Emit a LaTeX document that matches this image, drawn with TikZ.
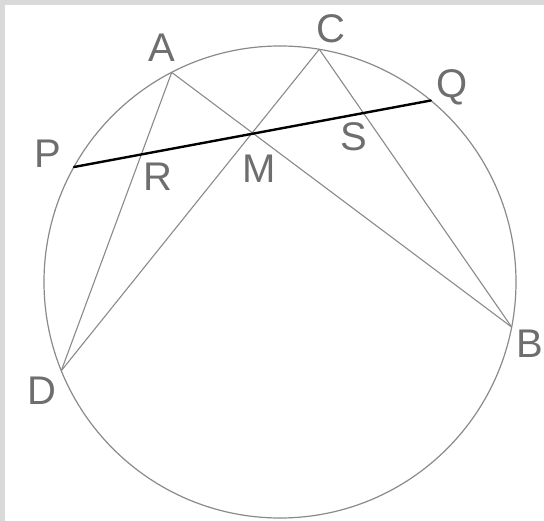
\documentclass[tikz,border=0pt]{standalone}
\usepackage{fontspec}
\setmainfont{Liberation Sans}
\definecolor{framegray}{HTML}{D9D9D9}
\definecolor{linegray}{HTML}{8A8A8A}
\definecolor{labelgray}{HTML}{6E6E6E}
\tikzset{
  chord/.style={draw=linegray, line width=1.1pt},
  lbl/.style={text=labelgray, inner sep=0pt, font=\fontsize{40}{40}\selectfont}
}
\begin{document}
\begin{tikzpicture}[x=1pt, y=-1pt]
    \useasboundingbox (0,0) rectangle (544,521);
    \fill[framegray] (0,0) rectangle (544,5);
    \fill[framegray] (0,0) rectangle (5,521);

    \coordinate (O) at (280,282);
    \coordinate (A) at (171.7,72.4);
    \coordinate (B) at (511.7,327.1);
    \coordinate (C) at (319.3,49.3);
    \coordinate (D) at (61.3,370.7);
    \coordinate (P) at (74,167);
    \coordinate (Q) at (430.8,100.5);

    \draw[draw=linegray, line width=1.2pt] (O) circle [radius=236];

    \draw[chord] (A) -- (B);
    \draw[chord] (A) -- (D);
    \draw[chord] (C) -- (D);
    \draw[chord] (C) -- (B);
    \draw[line width=2.4pt, line cap=round] (P) -- (Q);

    \node[lbl] (lA) at (162,48) {A};
    \node[lbl] (lB) at (530,344) {B};
    \node[lbl] (lC) at (331,29) {C};
    \node[lbl] (lD) at (42,391) {D};
    \node[lbl] (lP) at (48,154) {P};
    \node[lbl] (lQ) at (452,87) {Q};
    \node[lbl] (lR) at (158,177) {R};
    \node[lbl] (lS) at (354,137) {S};
    \node[lbl] (lM) at (259,169) {M};
\end{tikzpicture}
\end{document}
